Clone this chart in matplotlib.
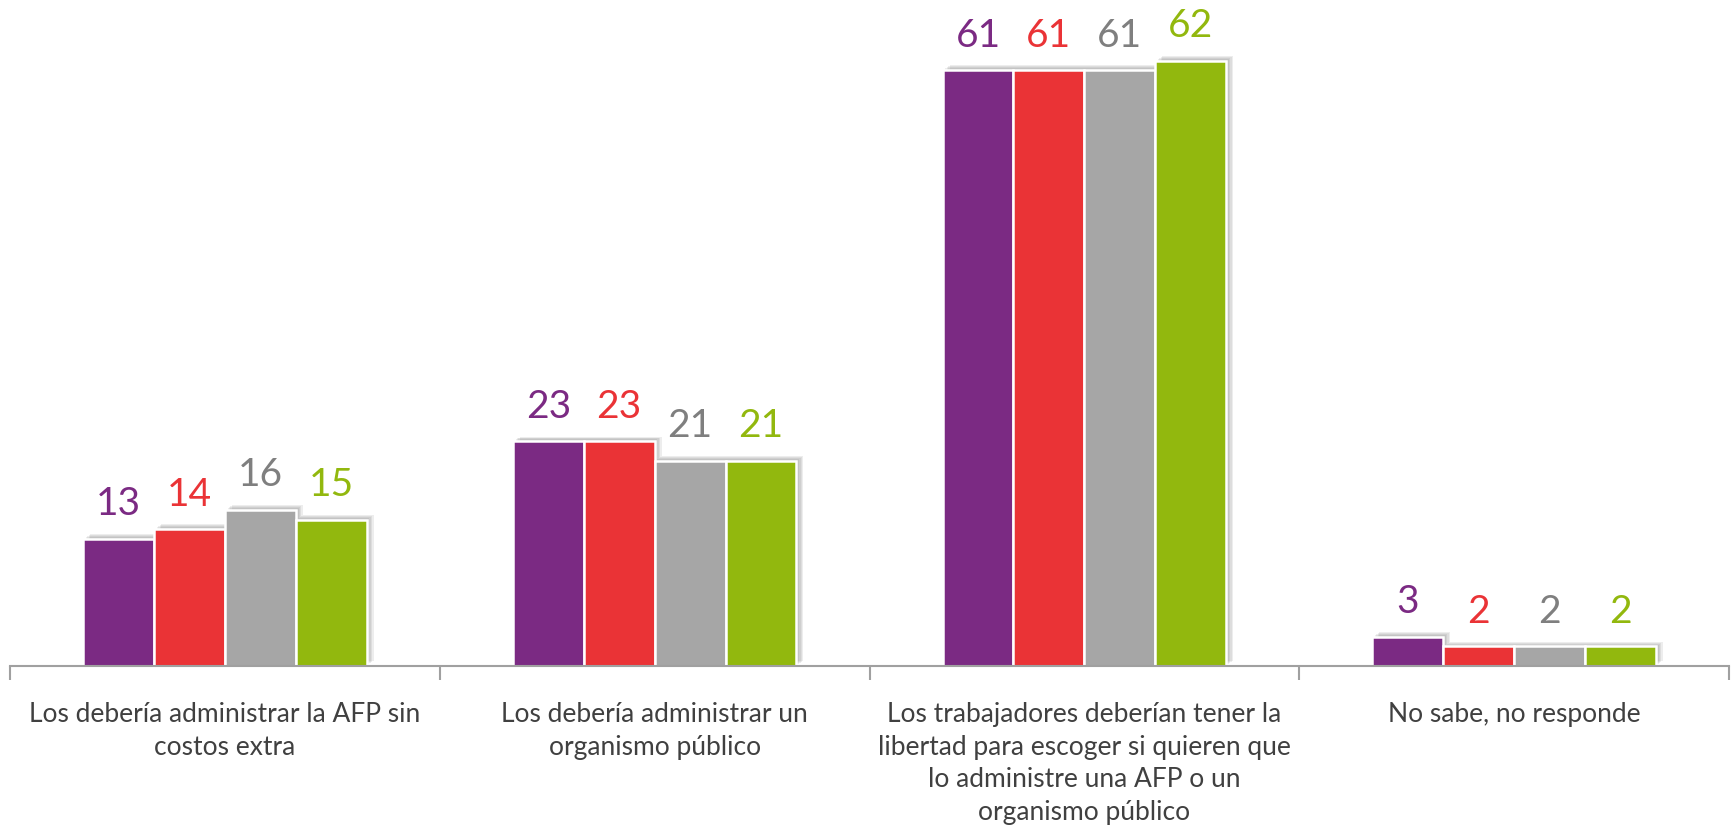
import numpy as np
import matplotlib.pyplot as plt
import matplotlib.patheffects as pe

# datos
categorias = ['Los debería administrar la AFP sin\ncostos extra',
              'Los debería administrar un\norganismo público',
              'Los trabajadores deberían tener la\nlibertad para escoger si quieren que\nlo administre una AFP o un\norganismo público',
              'No sabe, no responde']
serie_1 = [13, 23, 61, 3]
serie_2 = [14, 23, 61, 2]
serie_3 = [16, 21, 61, 2]
serie_4 = [15, 21, 62, 2]

colores_barra = ['#7B2A83', '#EA3336', '#A6A6A6', '#92B80E']
colores_texto = ['#7B2A83', '#EA3336', '#7F7F7F', '#92B80E']

plt.rcParams['font.family'] = ['Lato', 'DejaVu Sans']

fig = plt.figure(figsize=(17.32, 8.35), dpi=100)
ax = fig.add_axes([10 / 1732, 1 - 666 / 835, 1719 / 1732, 666 / 835])

x = np.arange(len(categorias))
ancho = 0.165
# sombra suave: varias capas desplazadas
sombra = [pe.SimplePatchShadow(offset=(d, d * 0.7), shadow_rgbFace='#707070', alpha=0.12)
          for d in (5, 4, 3, 2)] + [pe.Normal()]

for i, valores in enumerate([serie_1, serie_2, serie_3, serie_4]):
    pos = x + (i - 1.5) * ancho
    barras = ax.bar(pos, valores, width=ancho, color=colores_barra[i],
                    edgecolor='white', linewidth=1.8, zorder=3)
    for b in barras:
        b.set_path_effects(sombra)
    for p, v in zip(pos, valores):
        ax.annotate(str(v), (p, v), xytext=(0, 12), textcoords='offset points',
                    ha='center', va='bottom', fontsize=28, color=colores_texto[i])

ax.set_xlim(-0.5, 3.5)
ax.set_ylim(0, 68.2)

for s in ['top', 'right', 'left']:
    ax.spines[s].set_visible(False)
ax.spines['bottom'].set_color('#A0A0A0')
ax.spines['bottom'].set_linewidth(1.5)
ax.spines['bottom'].set_zorder(4)
ax.set_yticks([])

ax.set_xticks(x)
ax.set_xticklabels(categorias, fontsize=19, color='#404040', linespacing=1.38)
ax.tick_params(axis='x', which='major', length=0, pad=26)
ax.set_xticks(np.arange(-0.5, 4.0, 1.0), minor=True)
ax.tick_params(axis='x', which='minor', length=10, width=1.5, color='#A0A0A0')

fig.savefig('out.png', dpi=100)
